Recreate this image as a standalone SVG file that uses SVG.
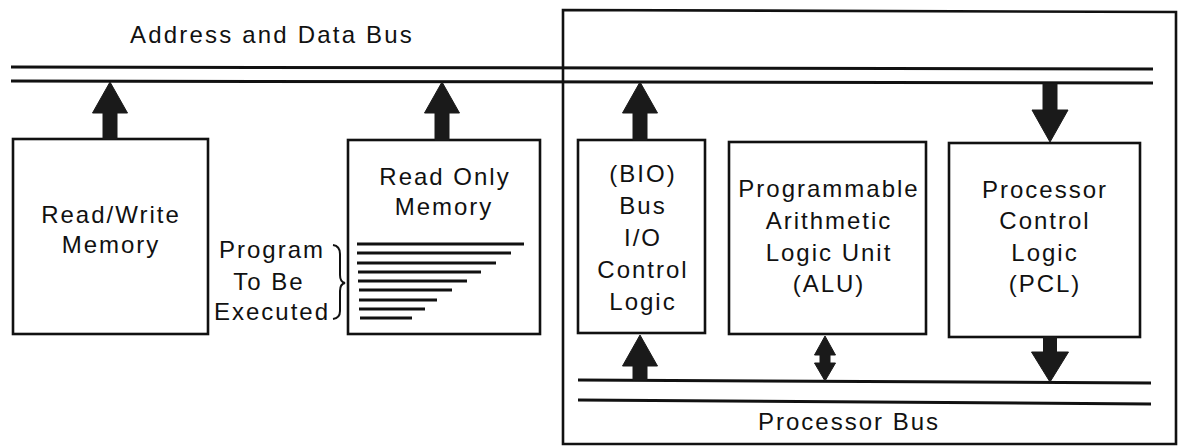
<svg xmlns="http://www.w3.org/2000/svg" width="1178" height="446" viewBox="0 0 1178 446">
<style>
.box{fill:none;stroke:#111;stroke-width:2.6}
.bus{fill:none;stroke:#111;stroke-width:3}
.arr{fill:#1a1a1a;stroke:#1a1a1a;stroke-width:1;stroke-linejoin:miter}
.t{font-family:"Liberation Sans",Arial,Helvetica,sans-serif;font-size:24px;fill:#111;text-anchor:middle;letter-spacing:2px}
.prog{fill:none;stroke:#111;stroke-width:3}
</style>
<rect width="1178" height="446" fill="#fff"/>

<g id="outer-box">
<path class="box" d="M563,444 L563,10 L1176,12 L1176,444 Z"/>
</g>

<g id="address-data-bus">
<text class="t" x="272" y="43" style="letter-spacing:2.2px">Address and Data Bus</text>
<path class="bus" d="M11,67 L1153,69"/>
<path class="bus" d="M11,81 L1153,83"/>
</g>

<g id="processor-bus">
<path class="bus" d="M578,380 L1151,383"/>
<path class="bus" d="M578,400 L1151,404"/>
<text class="t" x="849" y="430">Processor Bus</text>
</g>

<g id="read-write-memory">
<rect class="box" x="13" y="139" width="195" height="195"/>
<text class="t" x="111" y="223">Read/Write</text>
<text class="t" x="111" y="253">Memory</text>
</g>

<g id="program-label">
<text class="t" x="272" y="258">Program</text>
<text class="t" x="269" y="290">To Be</text>
<text class="t" x="272" y="320">Executed</text>
<path d="M333,245 Q340,246 340,254 L340,275 Q340,282 345,283 Q340,284 340,291 L340,311 Q340,318 333,319" fill="none" stroke="#111" stroke-width="2"/>
</g>

<g id="read-only-memory">
<rect class="box" x="348" y="140" width="192" height="194"/>
<text class="t" x="445" y="185">Read Only</text>
<text class="t" x="444" y="215">Memory</text>
<path class="prog" d="M357,244 H524 M357,253 H511 M357,263 H496 M358,272 H481 M358,281 H467 M359,290 H452 M359,300 H437 M359,309 H425 M360,318 H412"/>
</g>

<g id="bio">
<rect class="box" x="578" y="140" width="127" height="193"/>
<text class="t" x="643" y="182">(BIO)</text>
<text class="t" x="643" y="214">Bus</text>
<text class="t" x="643" y="246">I/O</text>
<text class="t" x="643" y="278">Control</text>
<text class="t" x="643" y="310">Logic</text>
</g>

<g id="alu">
<rect class="box" x="729" y="142" width="197" height="192"/>
<text class="t" x="829" y="197">Programmable</text>
<text class="t" x="829" y="229">Arithmetic</text>
<text class="t" x="829" y="261">Logic Unit</text>
<text class="t" x="829" y="292">(ALU)</text>
</g>

<g id="pcl">
<rect class="box" x="949" y="143" width="191" height="194"/>
<text class="t" x="1045" y="198">Processor</text>
<text class="t" x="1045" y="229">Control</text>
<text class="t" x="1045" y="261">Logic</text>
<text class="t" x="1045" y="292">(PCL)</text>
</g>

<g id="connectors">
<polygon class="arr" points="110,82 127.5,113 117,113 117,139 103,139 103,113 92.5,113"/>
<polygon class="arr" points="442,82 459.5,113 449,113 449,140 435,140 435,113 424.5,113"/>
<polygon class="arr" points="640,82 657.5,113 647,113 647,140 633,140 633,113 622.5,113"/>
<polygon class="arr" points="1043,84 1057,84 1057,110 1068,110 1050,142 1032,110 1043,110"/>
<polygon class="arr" points="640,335 657.5,366 647,366 647,380 633,380 633,366 622.5,366"/>
<polygon class="arr" points="825,336 835.5,355 830,355 830,363 835.5,363 825,381 814.5,363 820,363 820,355 814.5,355"/>
<polygon class="arr" points="1043.5,337 1056.5,337 1056.5,352 1068.5,352 1050,382 1031.5,352 1043.5,352"/>
</g>
</svg>
